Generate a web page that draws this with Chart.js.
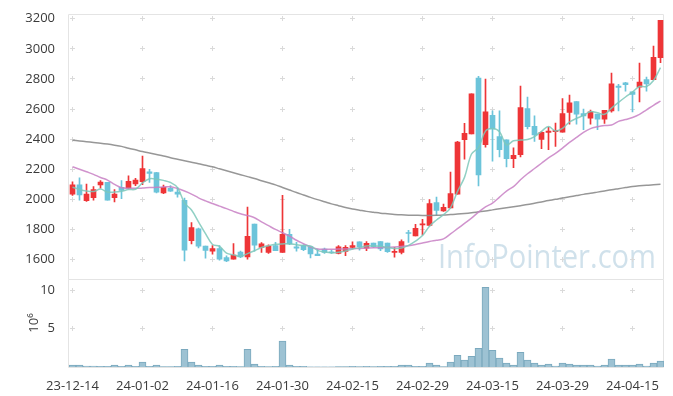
<!DOCTYPE html>
<html><head><meta charset="utf-8">
<script src="https://cdn.jsdelivr.net/npm/chart.js@4"></script>
<style>html,body{margin:0;padding:0;background:#fff}#wrap{width:673px;height:396px}</style>
</head><body><div id="wrap"><canvas id="c" width="673" height="396"></canvas></div>
<script>
const dates = ["23-12-14","23-12-15","23-12-18","23-12-19","23-12-20","23-12-21","23-12-22","23-12-26","23-12-27","23-12-28",
"24-01-02","24-01-03","24-01-04","24-01-05","24-01-08","24-01-09","24-01-10","24-01-11","24-01-12","24-01-15",
"24-01-16","24-01-17","24-01-18","24-01-19","24-01-22","24-01-23","24-01-24","24-01-25","24-01-26","24-01-29",
"24-01-30","24-01-31","24-02-01","24-02-02","24-02-05","24-02-06","24-02-07","24-02-08","24-02-13","24-02-14",
"24-02-15","24-02-16","24-02-19","24-02-20","24-02-21","24-02-22","24-02-23","24-02-26","24-02-27","24-02-28",
"24-02-29","24-03-04","24-03-05","24-03-06","24-03-07","24-03-08","24-03-11","24-03-12","24-03-13","24-03-14",
"24-03-15","24-03-18","24-03-19","24-03-20","24-03-21","24-03-22","24-03-25","24-03-26","24-03-27","24-03-28",
"24-03-29","24-04-01","24-04-02","24-04-03","24-04-04","24-04-05","24-04-08","24-04-09","24-04-11","24-04-12",
"24-04-15","24-04-16","24-04-17","24-04-18","24-04-19"];
const openP = [2035,2096,1991,2011,2096,2113,2011,2080,2074,2102,2117,2183,2178,2043,2074,2048,1994,1726,1804,1689,
1656,1672,1613,1602,1650,1617,1835,1680,1648,1692,1648,1768,1685,1692,1685,1637,1670,1652,1641,1654,
1681,1718,1676,1709,1720,1709,1648,1648,1779,1757,1830,1827,1978,1923,1943,2035,2396,2435,2806,2363,
2559,2417,2396,2271,2297,2603,2485,2398,2444,2450,2446,2577,2649,2570,2540,2566,2533,2588,2752,2774,
2715,2745,2796,2796,2942];
const highP = [2117,2143,2102,2085,2124,2113,2065,2124,2157,2139,2287,2200,2180,2095,2091,2080,2009,1846,1809,1689,
1693,1693,1624,1706,1656,1948,1835,1712,1698,1714,2026,1801,1714,1698,1685,1670,1676,1663,1692,1692,
1718,1718,1720,1709,1720,1709,1681,1731,1794,1834,1867,1998,2015,1968,2181,2385,2505,2702,2817,2800,
2588,2588,2396,2343,2752,2680,2555,2450,2479,2507,2669,2693,2649,2599,2594,2566,2592,2839,2765,2778,
2715,2905,2813,3019,3189];
const lowP = [2026,1994,1987,1994,2074,1994,1983,2004,2070,2091,2098,2113,2043,2037,2052,2015,1591,1704,1678,1609,
1635,1596,1585,1602,1613,1602,1656,1647,1640,1659,1648,1698,1655,1659,1611,1626,1641,1641,1637,1626,
1670,1663,1659,1681,1659,1648,1615,1637,1714,1757,1764,1823,1893,1919,1943,2035,2267,2435,2090,2347,
2253,2282,2216,2210,2282,2468,2385,2337,2330,2352,2446,2500,2500,2463,2500,2463,2505,2579,2588,2719,
2581,2647,2719,2796,2909];
const closeP = [2096,2030,2035,2065,2115,1994,2035,2059,2120,2128,2204,2172,2048,2080,2054,2035,1663,1813,1689,1661,
1672,1602,1591,1630,1617,1754,1696,1705,1690,1659,1768,1703,1676,1665,1637,1626,1648,1646,1685,1681,
1692,1685,1707,1685,1670,1652,1655,1720,1773,1808,1838,1972,1926,1947,2039,2380,2439,2702,2162,2581,
2468,2330,2271,2293,2610,2483,2428,2446,2454,2459,2570,2642,2566,2555,2581,2533,2592,2767,2743,2762,
2697,2780,2767,2944,3189];
const volumeM = [0.26,0.26,0.13,0.13,0.1,0.1,0.26,0.1,0.26,0.1,0.64,0.1,0.26,0.05,0.04,0.1,2.3,0.64,0.26,0.1,
0.1,0.26,0.1,0.1,0.05,2.3,0.38,0.1,0.05,0.1,3.36,0.26,0.1,0.1,0.03,0.03,0.03,0.03,0.04,0.04,
0.1,0.04,0.1,0.04,0.1,0.1,0.1,0.26,0.26,0.1,0.1,0.5,0.26,0.05,0.64,1.53,0.9,1.4,2.43,10.34,
2.17,1.15,0.5,0.26,1.9,0.9,0.5,0.26,0.38,0.13,0.5,0.38,0.26,0.26,0.26,0.13,0.26,1.02,0.26,0.26,
0.26,0.38,0.13,0.5,0.77];
const ma5 = [2080,2066,2056,2052,2068,2048,2049,2054,2065,2067,2109,2137,2134,2126,2112,2078,1976,1929,1851,1772,
1700,1687,1643,1631,1622,1639,1658,1680,1692,1701,1704,1705,1699,1694,1690,1661,1650,1644,1648,1657,
1670,1678,1690,1690,1688,1680,1674,1676,1694,1722,1759,1822,1863,1898,1944,2053,2146,2301,2344,2453,
2470,2449,2362,2389,2394,2397,2417,2452,2484,2454,2471,2514,2538,2558,2583,2575,2565,2606,2644,2680,
2713,2750,2750,2790,2875];
const ma20 = [2217,2200,2183,2166,2145,2128,2100,2078,2074,2073,2075,2078,2080,2082,2084,2072,2055,2035,2010,1990,
1972,1955,1938,1920,1904,1893,1878,1850,1825,1800,1778,1755,1728,1705,1683,1670,1668,1668,1670,1670,
1672,1674,1676,1678,1679,1680,1683,1687,1692,1700,1710,1720,1728,1737,1770,1805,1840,1875,1915,1950,
1975,2015,2055,2085,2130,2170,2205,2240,2275,2305,2340,2378,2412,2445,2470,2482,2490,2494,2518,2530,
2544,2565,2595,2625,2653];
const ma60 = [2393,2388,2383,2378,2373,2367,2360,2352,2340,2329,2318,2308,2298,2288,2277,2267,2257,2247,2237,2226,
2216,2203,2190,2177,2164,2151,2138,2124,2110,2096,2079,2062,2045,2029,2013,1998,1984,1970,1958,1946,
1936,1928,1920,1914,1908,1904,1900,1897,1895,1894,1893,1893,1894,1896,1899,1902,1906,1911,1917,1923,
1930,1937,1944,1951,1958,1965,1974,1983,1992,2000,2009,2017,2025,2033,2040,2048,2056,2064,2071,2078,
2085,2090,2094,2097,2100];
const priceTicks = [1600,1800,2000,2200,2400,2600,2800,3000,3200];
const volumeTicks = [5,10];
const volumeTitle = "10\u2076";
const watermark = "InfoPointer.com";
const labelEvery = 10;

const UP = '#ee3537', DOWN = '#6cc4da';
const candleColor = ctx => closeP[ctx.dataIndex] >= openP[ctx.dataIndex] ? UP : DOWN;
const FONT = {family: '"Open Sans", "Noto Sans", sans-serif', size: 13};
const TXT = '#3a3a3a';

const framePlugin = {
  id: 'frame',
  beforeDatasetsDraw(chart) {
    const ctx = chart.ctx, x = chart.scales.x, y = chart.scales.y, yv = chart.scales.yv;
    const L = chart.chartArea.left, R = chart.chartArea.right;
    ctx.save();
    ctx.font = '32px "Open Sans", sans-serif';
    ctx.fillStyle = 'rgba(170,200,218,0.55)';
    ctx.textAlign = 'right';
    ctx.textBaseline = 'alphabetic';
    ctx.fillText(watermark, R - 8, y.bottom - 11, 218);
    ctx.strokeStyle = '#dadada';
    ctx.lineWidth = 1;
    ctx.beginPath();
    for (let i = 0; i < dates.length; i += labelEvery) {
      const px = Math.round(x.getPixelForValue(i) - 0.5) + 0.5;
      const put = (py) => {
        py = Math.round(py - 0.5) + 0.5;
        ctx.moveTo(px - 2.5, py); ctx.lineTo(px + 2.5, py);
        ctx.moveTo(px, py - 2.5); ctx.lineTo(px, py + 2.5);
      };
      priceTicks.forEach(v => put(y.getPixelForValue(v)));
      volumeTicks.forEach(v => put(yv.getPixelForValue(v)));
    }
    ctx.stroke();
    ctx.strokeStyle = '#e4e4e4';
    ctx.beginPath();
    ctx.rect(Math.round(L) - 0.5, Math.round(y.top) + 0.5, Math.round(R - L), Math.round(y.bottom - y.top));
    ctx.rect(Math.round(L) - 0.5, Math.round(yv.top) + 0.5, Math.round(R - L), Math.round(yv.bottom - yv.top));
    ctx.stroke();
    ctx.restore();
  }
};

new Chart(document.getElementById('c'), {
  data: {
    labels: dates,
    datasets: [
      {type: 'line', label: 'MA5', data: ma5, yAxisID: 'y', borderColor: 'rgba(125,200,186,0.85)', borderWidth: 1.5, pointRadius: 0, tension: 0.35, order: 0},
      {type: 'line', label: 'MA20', data: ma20, yAxisID: 'y', borderColor: 'rgba(200,128,196,0.85)', borderWidth: 1.5, pointRadius: 0, tension: 0.35, order: 0},
      {type: 'line', label: 'MA60', data: ma60, yAxisID: 'y', borderColor: 'rgba(140,140,140,0.9)', borderWidth: 1.5, pointRadius: 0, tension: 0.35, order: 0},
      {type: 'bar', label: 'wick', data: dates.map((d, i) => [lowP[i], highP[i]]), yAxisID: 'y', backgroundColor: candleColor, barThickness: 1, grouped: false, order: 2},
      {type: 'bar', label: 'body', data: dates.map((d, i) => [openP[i], closeP[i]]), yAxisID: 'y', backgroundColor: candleColor, barThickness: 5, grouped: false, order: 1},
      {type: 'bar', label: 'volume', data: volumeM, yAxisID: 'yv', backgroundColor: '#9dc2d3', borderColor: '#7ba9be', borderWidth: 1, barPercentage: 1, categoryPercentage: 1, grouped: false, order: 3}
    ]
  },
  options: {
    responsive: false,
    devicePixelRatio: 1,
    animation: false,
    layout: {padding: {left: 0, top: 10, right: 9, bottom: 0}},
    plugins: {legend: {display: false}, tooltip: {enabled: false}},
    scales: {
      x: {
        type: 'category', offset: true,
        grid: {display: false}, border: {display: false},
        ticks: {autoSkip: false, maxRotation: 0, minRotation: 0, padding: 3, color: TXT, font: FONT,
          callback: (v, i) => i % labelEvery === 0 ? dates[i] : ''},
        afterFit: s => { s.height = 29; }
      },
      yv: {
        type: 'linear', position: 'left', stack: 'panels', stackWeight: 89,
        min: 0, max: 11.44,
        grid: {display: false}, border: {display: false},
        afterBuildTicks: s => { s.ticks = volumeTicks.map(v => ({value: v})); },
        ticks: {autoSkip: false, padding: 6, color: TXT, font: FONT, callback: v => String(v)},
        title: {display: true, text: volumeTitle, color: TXT, font: {family: '"Open Sans", sans-serif', size: 13}, padding: {top: 26, bottom: 0}},
        afterFit: s => { s.width = 69; }
      },
      y: {
        type: 'linear', position: 'left', stack: 'panels', stackWeight: 268,
        min: 1471, max: 3233,
        grid: {display: false}, border: {display: false},
        afterBuildTicks: s => { s.ticks = priceTicks.map(v => ({value: v})); },
        ticks: {autoSkip: false, padding: 6, color: TXT, font: FONT, callback: v => String(v)},
        afterFit: s => { s.width = 69; }
      }
    }
  },
  plugins: [framePlugin]
});
</script></body></html>
